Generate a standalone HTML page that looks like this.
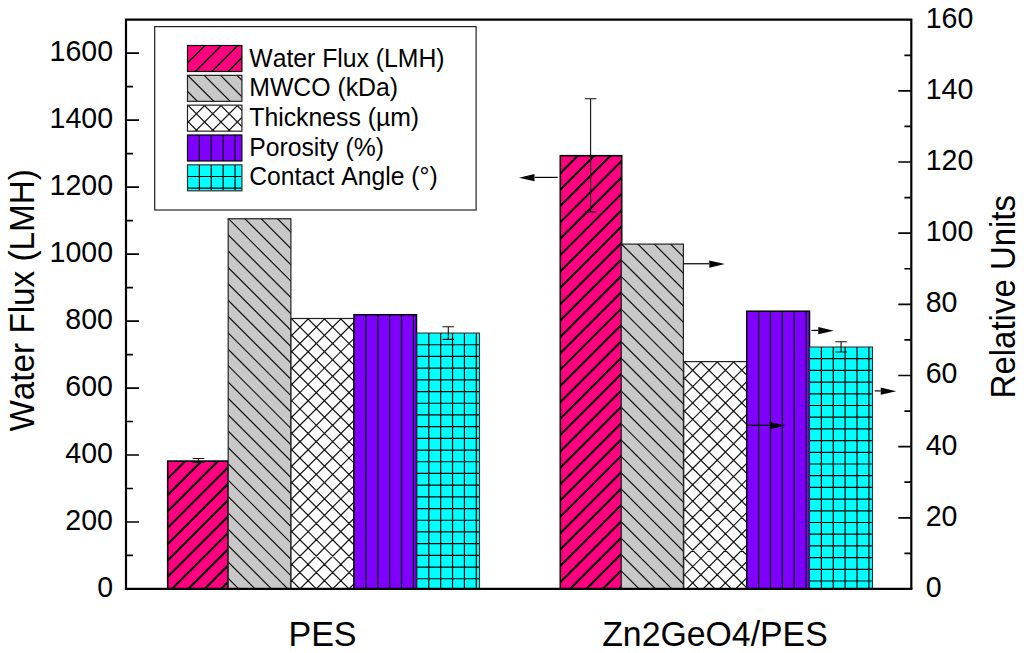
<!DOCTYPE html>
<html><head><meta charset="utf-8"><title>chart</title>
<style>html,body{margin:0;padding:0;background:#fff;}svg{display:block;}text{font-family:"Liberation Sans",sans-serif;fill:#000;font-kerning:none;}</style>
</head><body>
<svg width="1024" height="653" viewBox="0 0 1024 653">
<rect x="0" y="0" width="1024" height="653" fill="#fff"/>
<clipPath id="c1"><rect x="167.70" y="461.10" width="60.40" height="127.85"/></clipPath>
<rect x="167.70" y="461.10" width="60.40" height="127.85" fill="#FF0080"/>
<path d="M164.70 481.66L231.10 415.26 M164.70 498.02L231.10 431.62 M164.70 514.38L231.10 447.98 M164.70 530.74L231.10 464.34 M164.70 547.10L231.10 480.70 M164.70 563.46L231.10 497.06 M164.70 579.82L231.10 513.42 M164.70 596.18L231.10 529.78 M164.70 612.54L231.10 546.14 M164.70 628.90L231.10 562.50 M164.70 645.26L231.10 578.86" stroke="#000" stroke-width="2.1" fill="none" clip-path="url(#c1)"/>
<rect x="167.70" y="461.10" width="60.40" height="127.85" fill="none" stroke="#000" stroke-width="1.6"/>
<clipPath id="c2"><rect x="228.20" y="218.75" width="62.70" height="370.20"/></clipPath>
<rect x="228.20" y="218.75" width="62.70" height="370.20" fill="#C8C8C8"/>
<path d="M225.20 166.37L293.90 235.07 M225.20 182.73L293.90 251.43 M225.20 199.09L293.90 267.79 M225.20 215.45L293.90 284.15 M225.20 231.81L293.90 300.51 M225.20 248.17L293.90 316.87 M225.20 264.53L293.90 333.23 M225.20 280.89L293.90 349.59 M225.20 297.25L293.90 365.95 M225.20 313.61L293.90 382.31 M225.20 329.97L293.90 398.67 M225.20 346.33L293.90 415.03 M225.20 362.69L293.90 431.39 M225.20 379.05L293.90 447.75 M225.20 395.41L293.90 464.11 M225.20 411.77L293.90 480.47 M225.20 428.13L293.90 496.83 M225.20 444.49L293.90 513.19 M225.20 460.85L293.90 529.55 M225.20 477.21L293.90 545.91 M225.20 493.57L293.90 562.27 M225.20 509.93L293.90 578.63 M225.20 526.29L293.90 594.99 M225.20 542.65L293.90 611.35 M225.20 559.01L293.90 627.71 M225.20 575.37L293.90 644.07" stroke="#111" stroke-width="1.2" fill="none" clip-path="url(#c2)"/>
<rect x="228.20" y="218.75" width="62.70" height="370.20" fill="none" stroke="#222" stroke-width="1.2"/>
<clipPath id="c3"><rect x="291.00" y="318.50" width="62.90" height="270.45"/></clipPath>
<rect x="291.00" y="318.50" width="62.90" height="270.45" fill="#FFFFFF"/>
<path d="M288.00 266.12L356.90 335.02 M288.00 282.48L356.90 351.38 M288.00 298.84L356.90 367.74 M288.00 315.20L356.90 384.10 M288.00 331.56L356.90 400.46 M288.00 347.92L356.90 416.82 M288.00 364.28L356.90 433.18 M288.00 380.64L356.90 449.54 M288.00 397.00L356.90 465.90 M288.00 413.36L356.90 482.26 M288.00 429.72L356.90 498.62 M288.00 446.08L356.90 514.98 M288.00 462.44L356.90 531.34 M288.00 478.80L356.90 547.70 M288.00 495.16L356.90 564.06 M288.00 511.52L356.90 580.42 M288.00 527.88L356.90 596.78 M288.00 544.24L356.90 613.14 M288.00 560.60L356.90 629.50 M288.00 576.96L356.90 645.86 M288.00 339.06L356.90 270.16 M288.00 355.42L356.90 286.52 M288.00 371.78L356.90 302.88 M288.00 388.14L356.90 319.24 M288.00 404.50L356.90 335.60 M288.00 420.86L356.90 351.96 M288.00 437.22L356.90 368.32 M288.00 453.58L356.90 384.68 M288.00 469.94L356.90 401.04 M288.00 486.30L356.90 417.40 M288.00 502.66L356.90 433.76 M288.00 519.02L356.90 450.12 M288.00 535.38L356.90 466.48 M288.00 551.74L356.90 482.84 M288.00 568.10L356.90 499.20 M288.00 584.46L356.90 515.56 M288.00 600.82L356.90 531.92 M288.00 617.18L356.90 548.28 M288.00 633.54L356.90 564.64 M288.00 649.90L356.90 581.00" stroke="#111" stroke-width="1.2" fill="none" clip-path="url(#c3)"/>
<rect x="291.00" y="318.50" width="62.90" height="270.45" fill="none" stroke="#222" stroke-width="1.2"/>
<clipPath id="c4"><rect x="354.00" y="314.70" width="62.50" height="274.25"/></clipPath>
<rect x="354.00" y="314.70" width="62.50" height="274.25" fill="#8000FF"/>
<path d="M365.88 314.70L365.88 588.95 M377.76 314.70L377.76 588.95 M389.64 314.70L389.64 588.95 M401.52 314.70L401.52 588.95 M413.40 314.70L413.40 588.95" stroke="#000" stroke-width="1.2" fill="none" clip-path="url(#c4)"/>
<rect x="354.00" y="314.70" width="62.50" height="274.25" fill="none" stroke="#000" stroke-width="1.5"/>
<clipPath id="c5"><rect x="416.90" y="333.05" width="62.60" height="255.90"/></clipPath>
<rect x="416.90" y="333.05" width="62.60" height="255.90" fill="#00FFFF"/>
<path d="M428.78 333.05L428.78 588.95 M440.66 333.05L440.66 588.95 M452.54 333.05L452.54 588.95 M464.42 333.05L464.42 588.95 M476.30 333.05L476.30 588.95 M416.90 344.75L479.50 344.75 M416.90 356.45L479.50 356.45 M416.90 368.15L479.50 368.15 M416.90 379.85L479.50 379.85 M416.90 391.55L479.50 391.55 M416.90 403.25L479.50 403.25 M416.90 414.95L479.50 414.95 M416.90 426.65L479.50 426.65 M416.90 438.35L479.50 438.35 M416.90 450.05L479.50 450.05 M416.90 461.75L479.50 461.75 M416.90 473.45L479.50 473.45 M416.90 485.15L479.50 485.15 M416.90 496.85L479.50 496.85 M416.90 508.55L479.50 508.55 M416.90 520.25L479.50 520.25 M416.90 531.95L479.50 531.95 M416.90 543.65L479.50 543.65 M416.90 555.35L479.50 555.35 M416.90 567.05L479.50 567.05 M416.90 578.75L479.50 578.75" stroke="#000" stroke-width="1.2" fill="none" clip-path="url(#c5)"/>
<rect x="416.90" y="333.05" width="62.60" height="255.90" fill="none" stroke="#333" stroke-width="1.1"/>
<clipPath id="c6"><rect x="560.30" y="155.70" width="61.40" height="433.25"/></clipPath>
<rect x="560.30" y="155.70" width="61.40" height="433.25" fill="#FF0080"/>
<path d="M557.30 176.26L624.70 108.86 M557.30 192.62L624.70 125.22 M557.30 208.98L624.70 141.58 M557.30 225.34L624.70 157.94 M557.30 241.70L624.70 174.30 M557.30 258.06L624.70 190.66 M557.30 274.42L624.70 207.02 M557.30 290.78L624.70 223.38 M557.30 307.14L624.70 239.74 M557.30 323.50L624.70 256.10 M557.30 339.86L624.70 272.46 M557.30 356.22L624.70 288.82 M557.30 372.58L624.70 305.18 M557.30 388.94L624.70 321.54 M557.30 405.30L624.70 337.90 M557.30 421.66L624.70 354.26 M557.30 438.02L624.70 370.62 M557.30 454.38L624.70 386.98 M557.30 470.74L624.70 403.34 M557.30 487.10L624.70 419.70 M557.30 503.46L624.70 436.06 M557.30 519.82L624.70 452.42 M557.30 536.18L624.70 468.78 M557.30 552.54L624.70 485.14 M557.30 568.90L624.70 501.50 M557.30 585.26L624.70 517.86 M557.30 601.62L624.70 534.22 M557.30 617.98L624.70 550.58 M557.30 634.34L624.70 566.94 M557.30 650.70L624.70 583.30" stroke="#000" stroke-width="2.1" fill="none" clip-path="url(#c6)"/>
<rect x="560.30" y="155.70" width="61.40" height="433.25" fill="none" stroke="#000" stroke-width="1.6"/>
<clipPath id="c7"><rect x="621.25" y="244.10" width="62.15" height="344.85"/></clipPath>
<rect x="621.25" y="244.10" width="62.15" height="344.85" fill="#C8C8C8"/>
<path d="M618.25 191.72L686.40 259.87 M618.25 208.08L686.40 276.23 M618.25 224.44L686.40 292.59 M618.25 240.80L686.40 308.95 M618.25 257.16L686.40 325.31 M618.25 273.52L686.40 341.67 M618.25 289.88L686.40 358.03 M618.25 306.24L686.40 374.39 M618.25 322.60L686.40 390.75 M618.25 338.96L686.40 407.11 M618.25 355.32L686.40 423.47 M618.25 371.68L686.40 439.83 M618.25 388.04L686.40 456.19 M618.25 404.40L686.40 472.55 M618.25 420.76L686.40 488.91 M618.25 437.12L686.40 505.27 M618.25 453.48L686.40 521.63 M618.25 469.84L686.40 537.99 M618.25 486.20L686.40 554.35 M618.25 502.56L686.40 570.71 M618.25 518.92L686.40 587.07 M618.25 535.28L686.40 603.43 M618.25 551.64L686.40 619.79 M618.25 568.00L686.40 636.15 M618.25 584.36L686.40 652.51" stroke="#111" stroke-width="1.2" fill="none" clip-path="url(#c7)"/>
<rect x="621.25" y="244.10" width="62.15" height="344.85" fill="none" stroke="#222" stroke-width="1.2"/>
<clipPath id="c8"><rect x="683.75" y="361.60" width="62.85" height="227.35"/></clipPath>
<rect x="683.75" y="361.60" width="62.85" height="227.35" fill="#FFFFFF"/>
<path d="M680.75 309.22L749.60 378.07 M680.75 325.58L749.60 394.43 M680.75 341.94L749.60 410.79 M680.75 358.30L749.60 427.15 M680.75 374.66L749.60 443.51 M680.75 391.02L749.60 459.87 M680.75 407.38L749.60 476.23 M680.75 423.74L749.60 492.59 M680.75 440.10L749.60 508.95 M680.75 456.46L749.60 525.31 M680.75 472.82L749.60 541.67 M680.75 489.18L749.60 558.03 M680.75 505.54L749.60 574.39 M680.75 521.90L749.60 590.75 M680.75 538.26L749.60 607.11 M680.75 554.62L749.60 623.47 M680.75 570.98L749.60 639.83 M680.75 382.16L749.60 313.31 M680.75 398.52L749.60 329.67 M680.75 414.88L749.60 346.03 M680.75 431.24L749.60 362.39 M680.75 447.60L749.60 378.75 M680.75 463.96L749.60 395.11 M680.75 480.32L749.60 411.47 M680.75 496.68L749.60 427.83 M680.75 513.04L749.60 444.19 M680.75 529.40L749.60 460.55 M680.75 545.76L749.60 476.91 M680.75 562.12L749.60 493.27 M680.75 578.48L749.60 509.63 M680.75 594.84L749.60 525.99 M680.75 611.20L749.60 542.35 M680.75 627.56L749.60 558.71 M680.75 643.92L749.60 575.07" stroke="#111" stroke-width="1.2" fill="none" clip-path="url(#c8)"/>
<rect x="683.75" y="361.60" width="62.85" height="227.35" fill="none" stroke="#222" stroke-width="1.2"/>
<clipPath id="c9"><rect x="746.70" y="311.20" width="62.80" height="277.75"/></clipPath>
<rect x="746.70" y="311.20" width="62.80" height="277.75" fill="#8000FF"/>
<path d="M758.58 311.20L758.58 588.95 M770.46 311.20L770.46 588.95 M782.34 311.20L782.34 588.95 M794.22 311.20L794.22 588.95 M806.10 311.20L806.10 588.95" stroke="#000" stroke-width="1.2" fill="none" clip-path="url(#c9)"/>
<rect x="746.70" y="311.20" width="62.80" height="277.75" fill="none" stroke="#000" stroke-width="1.5"/>
<clipPath id="c10"><rect x="809.50" y="347.00" width="63.00" height="241.95"/></clipPath>
<rect x="809.50" y="347.00" width="63.00" height="241.95" fill="#00FFFF"/>
<path d="M821.38 347.00L821.38 588.95 M833.26 347.00L833.26 588.95 M845.14 347.00L845.14 588.95 M857.02 347.00L857.02 588.95 M868.90 347.00L868.90 588.95 M809.50 358.70L872.50 358.70 M809.50 370.40L872.50 370.40 M809.50 382.10L872.50 382.10 M809.50 393.80L872.50 393.80 M809.50 405.50L872.50 405.50 M809.50 417.20L872.50 417.20 M809.50 428.90L872.50 428.90 M809.50 440.60L872.50 440.60 M809.50 452.30L872.50 452.30 M809.50 464.00L872.50 464.00 M809.50 475.70L872.50 475.70 M809.50 487.40L872.50 487.40 M809.50 499.10L872.50 499.10 M809.50 510.80L872.50 510.80 M809.50 522.50L872.50 522.50 M809.50 534.20L872.50 534.20 M809.50 545.90L872.50 545.90 M809.50 557.60L872.50 557.60 M809.50 569.30L872.50 569.30 M809.50 581.00L872.50 581.00" stroke="#000" stroke-width="1.2" fill="none" clip-path="url(#c10)"/>
<rect x="809.50" y="347.00" width="63.00" height="241.95" fill="none" stroke="#333" stroke-width="1.1"/>
<path d="M198.50 458.50V462.40M192.70 458.50H204.30M192.70 462.40H204.30" stroke="#111" stroke-width="1.1" fill="none"/>
<path d="M448.30 326.70V339.40M442.50 326.70H454.10M442.50 339.40H454.10" stroke="#111" stroke-width="1.1" fill="none"/>
<path d="M590.60 98.75V211.90M584.80 98.75H596.40M584.80 211.90H596.40" stroke="#111" stroke-width="1.1" fill="none"/>
<path d="M841.10 341.70V352.00M835.30 341.70H846.90M835.30 352.00H846.90" stroke="#111" stroke-width="1.1" fill="none"/>
<path d="M557.70 177.40H534.50" stroke="#000" stroke-width="1.2" fill="none"/>
<path d="M519.00 177.70L534.50 174.05L534.50 181.35Z" fill="#000"/>
<path d="M683.40 263.75H709.30" stroke="#000" stroke-width="1.2" fill="none"/>
<path d="M724.80 264.05L709.30 260.40L709.30 267.70Z" fill="#000"/>
<path d="M811.40 330.40H818.25" stroke="#000" stroke-width="1.2" fill="none"/>
<path d="M833.75 330.70L818.25 327.05L818.25 334.35Z" fill="#000"/>
<path d="M874.70 390.90H880.75" stroke="#000" stroke-width="1.2" fill="none"/>
<path d="M896.25 391.20L880.75 387.55L880.75 394.85Z" fill="#000"/>
<path d="M746.90 425.30H769.70" stroke="#000" stroke-width="1.2" fill="none"/>
<path d="M785.20 425.60L769.70 421.95L769.70 429.25Z" fill="#000"/>
<path d="M126.0 588.95V19.7H911.3V588.95" stroke="#000" stroke-width="2.2" fill="none" stroke-linejoin="miter"/>
<path d="M124.9 588.95H912.4" stroke="#000" stroke-width="2.2" fill="none"/>
<path d="M126.0 555.46h6.9 M126.0 521.98h13.0 M126.0 488.49h6.9 M126.0 455.01h13.0 M126.0 421.52h6.9 M126.0 388.04h13.0 M126.0 354.55h6.9 M126.0 321.07h13.0 M126.0 287.58h6.9 M126.0 254.10h13.0 M126.0 220.61h6.9 M126.0 187.13h13.0 M126.0 153.64h6.9 M126.0 120.16h13.0 M126.0 86.67h6.9 M126.0 53.19h13.0 M911.3 553.37h-6.9 M911.3 517.79h-13.0 M911.3 482.22h-6.9 M911.3 446.64h-13.0 M911.3 411.06h-6.9 M911.3 375.48h-13.0 M911.3 339.90h-6.9 M911.3 304.33h-13.0 M911.3 268.75h-6.9 M911.3 233.17h-13.0 M911.3 197.59h-6.9 M911.3 162.01h-13.0 M911.3 126.43h-6.9 M911.3 90.86h-13.0 M911.3 55.28h-6.9" stroke="#000" stroke-width="1.7" fill="none"/>
<text x="97.19" y="596.85" font-size="29.6" textLength="15.88" lengthAdjust="spacingAndGlyphs">0</text>
<text x="65.37" y="529.88" font-size="29.6" textLength="47.63" lengthAdjust="spacingAndGlyphs">200</text>
<text x="65.37" y="462.91" font-size="29.6" textLength="47.63" lengthAdjust="spacingAndGlyphs">400</text>
<text x="65.37" y="395.94" font-size="29.6" textLength="47.63" lengthAdjust="spacingAndGlyphs">600</text>
<text x="65.37" y="328.97" font-size="29.6" textLength="47.63" lengthAdjust="spacingAndGlyphs">800</text>
<text x="49.58" y="262.00" font-size="29.6" textLength="63.50" lengthAdjust="spacingAndGlyphs">1000</text>
<text x="49.58" y="195.03" font-size="29.6" textLength="63.50" lengthAdjust="spacingAndGlyphs">1200</text>
<text x="49.58" y="128.06" font-size="29.6" textLength="63.50" lengthAdjust="spacingAndGlyphs">1400</text>
<text x="49.58" y="61.09" font-size="29.6" textLength="63.50" lengthAdjust="spacingAndGlyphs">1600</text>
<text x="925.69" y="596.85" font-size="29.6" textLength="15.88" lengthAdjust="spacingAndGlyphs">0</text>
<text x="925.69" y="525.69" font-size="29.6" textLength="31.75" lengthAdjust="spacingAndGlyphs">20</text>
<text x="925.69" y="454.54" font-size="29.6" textLength="31.75" lengthAdjust="spacingAndGlyphs">40</text>
<text x="925.69" y="383.38" font-size="29.6" textLength="31.75" lengthAdjust="spacingAndGlyphs">60</text>
<text x="925.69" y="312.23" font-size="29.6" textLength="31.75" lengthAdjust="spacingAndGlyphs">80</text>
<text x="925.69" y="241.07" font-size="29.6" textLength="47.63" lengthAdjust="spacingAndGlyphs">100</text>
<text x="925.69" y="169.91" font-size="29.6" textLength="47.63" lengthAdjust="spacingAndGlyphs">120</text>
<text x="925.69" y="98.76" font-size="29.6" textLength="47.63" lengthAdjust="spacingAndGlyphs">140</text>
<text x="925.69" y="27.60" font-size="29.6" textLength="47.63" lengthAdjust="spacingAndGlyphs">160</text>
<text x="288.40" y="646.10" font-size="35.0" textLength="68.23" lengthAdjust="spacingAndGlyphs">PES</text>
<text x="602.21" y="646.10" font-size="35.0" textLength="225.51" lengthAdjust="spacingAndGlyphs">Zn2GeO4/PES</text>
<text transform="translate(33.60,431.62) rotate(-90)" font-size="35.0" textLength="262.54" lengthAdjust="spacingAndGlyphs">Water Flux (LMH)</text>
<text transform="translate(1014.90,398.41) rotate(-90)" font-size="35.0" textLength="203.43" lengthAdjust="spacingAndGlyphs">Relative Units</text>
<rect x="154.7" y="26.6" width="321.40" height="183.40" fill="#fff" stroke="#222" stroke-width="1.2"/>
<clipPath id="c11"><rect x="187.50" y="45.50" width="54.40" height="26.00"/></clipPath>
<rect x="187.50" y="45.50" width="54.40" height="26.00" fill="#FF0080"/>
<path d="M184.50 66.06L244.90 5.66 M184.50 82.42L244.90 22.02 M184.50 98.78L244.90 38.38 M184.50 115.14L244.90 54.74" stroke="#000" stroke-width="1.5" fill="none" clip-path="url(#c11)"/>
<rect x="187.50" y="45.50" width="54.40" height="26.00" fill="none" stroke="#000" stroke-width="1.2"/>
<text x="249.28" y="66.50" font-size="25.3" textLength="195.32" lengthAdjust="spacingAndGlyphs">Water Flux (LMH)</text>
<clipPath id="c12"><rect x="187.50" y="75.33" width="54.40" height="26.00"/></clipPath>
<rect x="187.50" y="75.33" width="54.40" height="26.00" fill="#C8C8C8"/>
<path d="M184.50 22.95L244.90 83.35 M184.50 39.31L244.90 99.71 M184.50 55.67L244.90 116.07 M184.50 72.03L244.90 132.43 M184.50 88.39L244.90 148.79" stroke="#111" stroke-width="1.2" fill="none" clip-path="url(#c12)"/>
<rect x="187.50" y="75.33" width="54.40" height="26.00" fill="none" stroke="#222" stroke-width="1.2"/>
<text x="249.28" y="96.22" font-size="25.3" textLength="148.81" lengthAdjust="spacingAndGlyphs">MWCO (kDa)</text>
<clipPath id="c13"><rect x="187.50" y="105.16" width="54.40" height="26.00"/></clipPath>
<rect x="187.50" y="105.16" width="54.40" height="26.00" fill="#FFFFFF"/>
<path d="M184.50 52.78L244.90 113.18 M184.50 69.14L244.90 129.54 M184.50 85.50L244.90 145.90 M184.50 101.86L244.90 162.26 M184.50 118.22L244.90 178.62 M184.50 125.72L244.90 65.32 M184.50 142.08L244.90 81.68 M184.50 158.44L244.90 98.04 M184.50 174.80L244.90 114.40" stroke="#111" stroke-width="1.2" fill="none" clip-path="url(#c13)"/>
<rect x="187.50" y="105.16" width="54.40" height="26.00" fill="none" stroke="#222" stroke-width="1.2"/>
<text x="249.28" y="125.94" font-size="25.3" textLength="169.82" lengthAdjust="spacingAndGlyphs">Thickness (µm)</text>
<clipPath id="c14"><rect x="187.50" y="134.99" width="54.40" height="26.00"/></clipPath>
<rect x="187.50" y="134.99" width="54.40" height="26.00" fill="#8000FF"/>
<path d="M199.38 134.99L199.38 160.99 M211.26 134.99L211.26 160.99 M223.14 134.99L223.14 160.99 M235.02 134.99L235.02 160.99" stroke="#000" stroke-width="1.2" fill="none" clip-path="url(#c14)"/>
<rect x="187.50" y="134.99" width="54.40" height="26.00" fill="none" stroke="#000" stroke-width="1.2"/>
<text x="249.28" y="155.66" font-size="25.3" textLength="134.61" lengthAdjust="spacingAndGlyphs">Porosity (%)</text>
<clipPath id="c15"><rect x="187.50" y="164.82" width="54.40" height="26.00"/></clipPath>
<rect x="187.50" y="164.82" width="54.40" height="26.00" fill="#00FFFF"/>
<path d="M199.38 164.82L199.38 190.82 M211.26 164.82L211.26 190.82 M223.14 164.82L223.14 190.82 M235.02 164.82L235.02 190.82 M187.50 176.52L241.90 176.52 M187.50 188.22L241.90 188.22" stroke="#000" stroke-width="1.2" fill="none" clip-path="url(#c15)"/>
<rect x="187.50" y="164.82" width="54.40" height="26.00" fill="none" stroke="#333" stroke-width="1.2"/>
<text x="249.28" y="185.38" font-size="25.3" textLength="188.42" lengthAdjust="spacingAndGlyphs">Contact Angle (°)</text>
</svg></body></html>
